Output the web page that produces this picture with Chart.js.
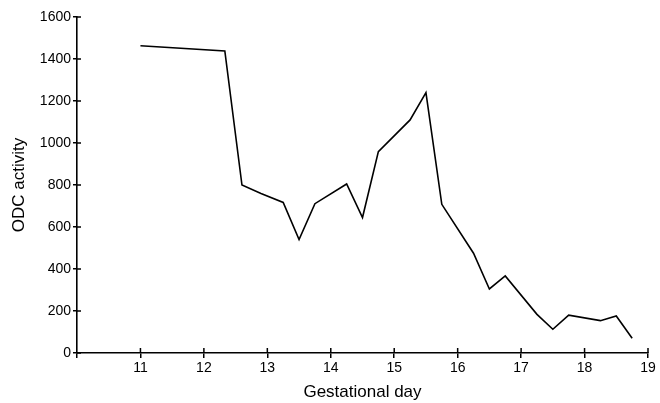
<!DOCTYPE html>
<html>
<head>
<meta charset="utf-8">
<script src="https://cdn.jsdelivr.net/npm/chart.js@4"></script>
<style>
  html, body { margin: 0; padding: 0; background: #fff; }
  #wrap { width: 660px; height: 403px; }
</style>
</head>
<body>
<div id="wrap"><canvas id="myChart"></canvas></div>
<script>
// gestational day (x) and ODC activity (y)
var days = [11, 12.33, 12.6, 12.9, 13.25, 13.5, 13.75, 14.25, 14.5, 14.75, 15.25, 15.5, 15.75, 16.25, 16.5, 16.75, 17.25, 17.5, 17.75, 18.25, 18.5, 18.75];
var activity = [1463, 1438, 800, 760, 717, 540, 711, 805, 645, 959, 1110, 1240, 708, 475, 305, 367, 184, 113, 180, 154, 176, 70];
var xTicks = [11, 12, 13, 14, 15, 16, 17, 18, 19];
var yTicks = [0, 200, 400, 600, 800, 1000, 1200, 1400, 1600];

var points = [];
for (var i = 0; i < days.length; i++) {
    points.push({ x: days[i], y: activity[i] });
}

// draws the inner half of the tick marks so they cross the axes
var crossTicks = {
    id: 'crossTicks',
    afterDraw: function (chart) {
        var ctx = chart.ctx;
        var xs = chart.scales.x, ys = chart.scales.y;
        var area = chart.chartArea;
        ctx.save();
        ctx.strokeStyle = '#000';
        ctx.lineWidth = 1.5;
        ctx.beginPath();
        xTicks.forEach(function (v) {
            var px = xs.getPixelForValue(v);
            ctx.moveTo(px, area.bottom);
            ctx.lineTo(px, area.bottom - 5);
        });
        yTicks.forEach(function (v) {
            var py = ys.getPixelForValue(v);
            ctx.moveTo(area.left, py);
            ctx.lineTo(area.left + 4, py);
        });
        ctx.stroke();
        ctx.restore();
    }
};

var font = "'Liberation Sans', Arial, Helvetica, sans-serif";

new Chart(document.getElementById('myChart'), {
    type: 'line',
    data: {
        datasets: [{
            data: points,
            borderColor: '#000',
            borderWidth: 1.6,
            pointRadius: 0,
            tension: 0,
            fill: false
        }]
    },
    options: {
        responsive: true,
        maintainAspectRatio: false,
        animation: false,
        layout: { padding: { left: 9, right: 12, top: 17, bottom: 0 } },
        plugins: { legend: { display: false }, tooltip: { enabled: false } },
        scales: {
            x: {
                type: 'linear',
                min: 10,
                max: 19,
                afterFit: function (s) { s.height = 50; },
                afterBuildTicks: function (s) {
                    s.ticks = [10].concat(xTicks).map(function (v) { return { value: v }; });
                },
                border: { display: true, color: '#000', width: 1.6 },
                grid: { drawOnChartArea: false, color: '#000', lineWidth: 1.5, tickLength: 5 },
                ticks: {
                    color: '#000',
                    padding: 2,
                    maxRotation: 0,
                    font: { family: font, size: 14 },
                    callback: function (v) { return v === 10 ? '' : v; }
                },
                title: {
                    display: true,
                    text: 'Gestational day',
                    color: '#000',
                    padding: { top: 0, bottom: 0 },
                    font: { family: font, size: 17 }
                }
            },
            y: {
                min: 0,
                max: 1600,
                afterFit: function (s) { s.width = 68; },
                afterBuildTicks: function (s) {
                    s.ticks = yTicks.map(function (v) { return { value: v }; });
                },
                border: { display: true, color: '#000', width: 1.6 },
                grid: { drawOnChartArea: false, color: '#000', lineWidth: 1.5, tickLength: 4 },
                ticks: {
                    color: '#000',
                    padding: 2,
                    font: { family: font, size: 14 },
                    callback: function (v) { return String(v); }
                },
                title: {
                    display: true,
                    text: 'ODC activity',
                    color: '#000',
                    padding: { top: 0, bottom: 0 },
                    font: { family: font, size: 17 }
                }
            }
        }
    },
    plugins: [crossTicks]
});
</script>
</body>
</html>
